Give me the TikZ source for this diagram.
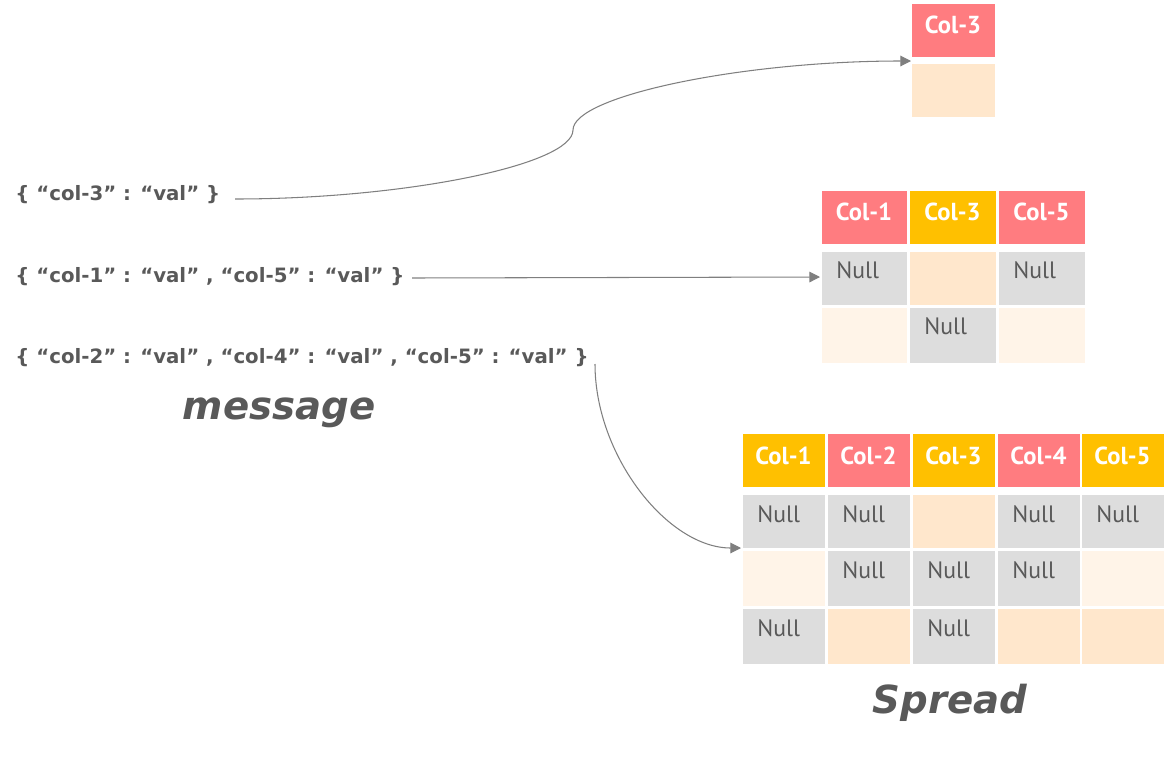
\documentclass[tikz,border=0pt]{standalone}
\usepackage{fontspec}
\setmainfont{DejaVu Sans}
\newfontfamily\cellfont{PT Sans}
\usetikzlibrary{arrows.meta}
\definecolor{pinkh}{HTML}{FF7C80}
\definecolor{goldh}{HTML}{FFC000}
\definecolor{grayc}{HTML}{DDDDDD}
\definecolor{peachc}{HTML}{FFE7CC}
\definecolor{lightc}{HTML}{FFF4E8}
\definecolor{txtgray}{HTML}{595959}
\definecolor{linegray}{HTML}{7F7F7F}
\newcommand\mkcell[6]{\node[cellbox,fill=#6,minimum width=#4*0.02cm,minimum height=#5*0.02cm] (#1) at (#2,#3) {};}
\newcommand\hdr[2]{\node[hdrtxt] at ([yshift=-0.62cm]#1.north) {#2};}
\newcommand\nul[1]{\node[nulltxt] at ([xshift=0.3cm,yshift=-0.56cm]#1.north west) {Null};}
\begin{document}
\begin{tikzpicture}[x=0.02cm,y=-0.02cm,
  cellbox/.style={anchor=north west,inner sep=0pt,outer sep=0pt,draw=white,line width=0.3pt},
  hdrtxt/.style={anchor=base,inner sep=0pt,text=white,font=\cellfont\bfseries\fontsize{14}{16}\selectfont},
  nulltxt/.style={anchor=base west,inner sep=0pt,text=txtgray,font=\cellfont\fontsize{13.5}{15}\selectfont},
  msg/.style={anchor=west,inner sep=0pt,text=txtgray,font=\bfseries\fontsize{11.25}{13}\selectfont},
  lbl/.style={inner sep=0pt,text=txtgray,font=\bfseries\itshape\fontsize{22}{26}\selectfont},
  conn/.style={draw=linegray,line width=0.6pt,-{Triangle[length=6pt,width=6pt]}}]
\useasboundingbox (0,0) rectangle (1170,761);
% ---- top table
\mkcell{t1h}{911}{3}{84}{54}{pinkh}
\mkcell{t1a}{911}{63}{84}{54}{peachc}
\hdr{t1h}{Col-3}
% ---- middle table
\mkcell{t2h1}{821}{190}{86}{54}{pinkh}
\mkcell{t2h2}{909}{190}{87}{54}{goldh}
\mkcell{t2h3}{998}{190}{87}{54}{pinkh}
\mkcell{t2a1}{821}{251}{86}{54}{grayc}
\mkcell{t2a2}{909}{251}{87}{54}{peachc}
\mkcell{t2a3}{998}{251}{87}{54}{grayc}
\mkcell{t2b1}{821}{307}{86}{56}{lightc}
\mkcell{t2b2}{909}{307}{87}{56}{grayc}
\mkcell{t2b3}{998}{307}{87}{56}{lightc}
\hdr{t2h1}{Col-1}\hdr{t2h2}{Col-3}\hdr{t2h3}{Col-5}
\nul{t2a1}\nul{t2a3}\nul{t2b2}
% ---- bottom table
\mkcell{t3h1}{742}{433}{83}{54}{goldh}
\mkcell{t3h2}{827}{433}{83}{54}{pinkh}
\mkcell{t3h3}{912}{433}{83}{54}{goldh}
\mkcell{t3h4}{997}{433}{83}{54}{pinkh}
\mkcell{t3h5}{1081}{433}{83}{54}{goldh}
\mkcell{t3a1}{742}{494}{83}{54}{grayc}
\mkcell{t3a2}{827}{494}{83}{54}{grayc}
\mkcell{t3a3}{912}{494}{83}{54}{peachc}
\mkcell{t3a4}{997}{494}{83}{54}{grayc}
\mkcell{t3a5}{1081}{494}{83}{54}{grayc}
\mkcell{t3b1}{742}{550}{83}{56}{lightc}
\mkcell{t3b2}{827}{550}{83}{56}{grayc}
\mkcell{t3b3}{912}{550}{83}{56}{grayc}
\mkcell{t3b4}{997}{550}{83}{56}{grayc}
\mkcell{t3b5}{1081}{550}{83}{56}{lightc}
\mkcell{t3c1}{742}{608}{83}{56}{grayc}
\mkcell{t3c2}{827}{608}{83}{56}{peachc}
\mkcell{t3c3}{912}{608}{83}{56}{grayc}
\mkcell{t3c4}{997}{608}{83}{56}{peachc}
\mkcell{t3c5}{1081}{608}{83}{56}{peachc}
\hdr{t3h1}{Col-1}\hdr{t3h2}{Col-2}\hdr{t3h3}{Col-3}\hdr{t3h4}{Col-4}\hdr{t3h5}{Col-5}
\nul{t3a1}\nul{t3a2}\nul{t3a4}\nul{t3a5}
\nul{t3b2}\nul{t3b3}\nul{t3b4}
\nul{t3c1}\nul{t3c3}
% ---- messages
\node[msg] (m1) at (15,195) {\{ “col-3” : “val” \}};
\node[msg] (m2) at (15,277) {\{ “col-1” : “val” , “col-5” : “val” \}};
\node[msg] (m3) at (15,358) {\{ “col-2” : “val” , “col-4” : “val” , “col-5” : “val” \}};
% ---- labels
\node[lbl] (lmsg) at (279,413) {message};
\node[lbl] (lspr) at (950,703) {Spread};
% ---- connectors
\coordinate (s1) at (235,199);
\coordinate (e1) at (911,61);
\coordinate (s2) at (412,278);
\coordinate (e2) at (820,277);
\coordinate (s3) at (595,364);
\coordinate (e3) at (741,548);
\draw[conn] (s1) .. controls (404,199) and (573,165) .. (573,130) .. controls (573,96) and (742,61) .. (e1);
\draw[conn] (s2) -- (e2);
\draw[conn] (s3) .. controls (595,456) and (668,548) .. (e3);
\end{tikzpicture}
\end{document}
